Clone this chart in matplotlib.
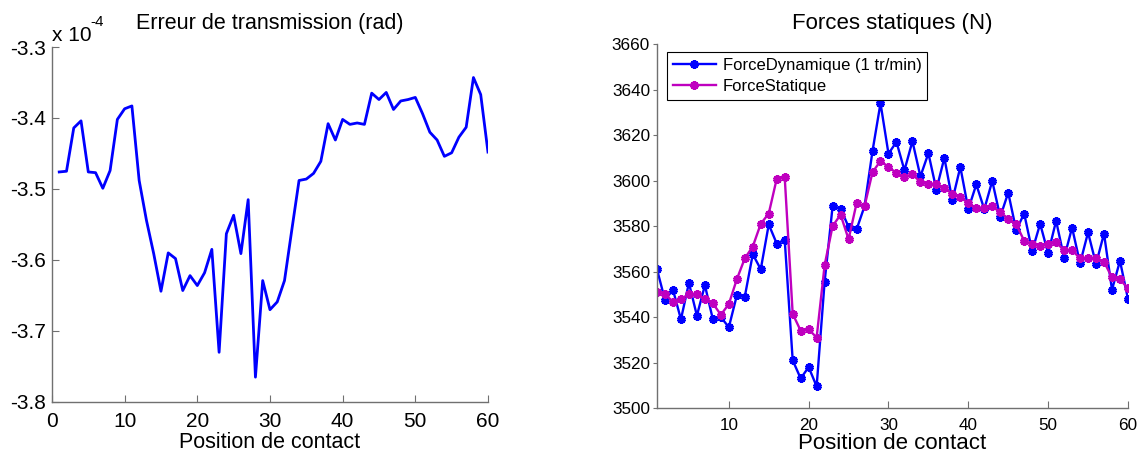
import matplotlib
matplotlib.use("Agg")
import matplotlib.pyplot as plt
import numpy as np

plt.rcParams['font.family'] = ['Liberation Sans', 'DejaVu Sans']

# Erreur de transmission, in units of 1e-4 rad
positions = list(range(1, 61))
erreur_e4 = [-3.476, -3.475, -3.414, -3.404, -3.476, -3.477, -3.499, -3.474, -3.402, -3.387,
             -3.383, -3.488, -3.544, -3.591, -3.644, -3.590, -3.598, -3.643, -3.622, -3.636,
             -3.618, -3.585, -3.730, -3.563, -3.537, -3.591, -3.515, -3.765, -3.629, -3.670,
             -3.659, -3.629, -3.558, -3.488, -3.486, -3.478, -3.461, -3.408, -3.431, -3.402,
             -3.409, -3.407, -3.409, -3.365, -3.374, -3.364, -3.388, -3.376, -3.374, -3.371,
             -3.394, -3.420, -3.431, -3.454, -3.449, -3.427, -3.413, -3.343, -3.367, -3.448]

force_dyn = [3561, 3547.5, 3552, 3539, 3555, 3540.6, 3554, 3539, 3540, 3535.5,
             3549.5, 3549, 3567.6, 3561, 3580.7, 3572.3, 3574, 3521, 3513, 3518,
             3509.5, 3555.5, 3588.7, 3587.7, 3579.6, 3578.5, 3588.7, 3613, 3634, 3611.8,
             3617, 3604.5, 3617.3, 3601.8, 3612, 3596, 3610, 3591.3, 3606, 3587.4,
             3598.3, 3587.4, 3599.8, 3584, 3594.7, 3578.2, 3585.5, 3569, 3581, 3568,
             3582.3, 3566, 3579.3, 3563.6, 3577.2, 3563.3, 3576.7, 3552, 3564.7, 3548]

force_stat = [3550.9, 3550, 3546.8, 3548, 3550, 3550, 3548, 3546, 3541, 3545.7,
              3556.6, 3565.8, 3571, 3581, 3585.5, 3600.8, 3601.5, 3541.4, 3534, 3534.6,
              3531, 3562.8, 3580, 3585, 3574.2, 3590, 3588.7, 3603.7, 3608.6, 3606,
              3603.3, 3601.5, 3602.7, 3599.4, 3598.3, 3598.6, 3596.7, 3594.2, 3592.8, 3590,
              3588, 3588, 3588.7, 3586, 3583.3, 3580.8, 3573.5, 3572, 3571.3, 3572,
              3572.8, 3569.4, 3569.4, 3565.8, 3566, 3565.8, 3564.3, 3557.4, 3556.6, 3552.6]

left_yticks = [-3.8, -3.7, -3.6, -3.5, -3.4, -3.3]
right_yticks = [3500, 3520, 3540, 3560, 3580, 3600, 3620, 3640, 3660]

fig = plt.figure(figsize=(11.42, 4.59), dpi=100)
ax1 = fig.add_axes([0.0455, 0.1242, 0.3818, 0.7734])
ax2 = fig.add_axes([0.5753, 0.111, 0.4124, 0.793])

axis_col = '#707070'

def style(ax, size):
    for s in ['top', 'right']:
        ax.spines[s].set_visible(False)
    for s in ['left', 'bottom']:
        ax.spines[s].set_color(axis_col)
        ax.spines[s].set_linewidth(1.0)
    ax.tick_params(direction='in', length=5, width=0.8, color=axis_col,
                   labelsize=size)

# left plot
ax1.plot(positions, erreur_e4, color='#0000ff', lw=2.0)
ax1.set_xlim(0, 60)
ax1.set_ylim(-3.8, -3.3)
ax1.set_xticks(range(0, 61, 10))
ax1.set_yticks(left_yticks)
ax1.set_yticklabels(['%.1f' % v for v in left_yticks])
style(ax1, 15)
ax1.tick_params(axis='x', pad=7)
ax1.tick_params(axis='y', pad=4)
ax1.set_title('Erreur de transmission (rad)', fontsize=15.5, pad=13)
ax1.set_xlabel('Position de contact', fontsize=15.5, labelpad=1)
ax1.text(0.0, 1.005, 'x 10', transform=ax1.transAxes, fontsize=15, ha='left', va='bottom')
ax1.text(0.087, 1.05, '-4', transform=ax1.transAxes, fontsize=11, ha='left', va='bottom')

# right plot
ax2.plot(positions, force_dyn, color='#0000ff', lw=1.7, marker=(6, 2, 0),
         ms=6, mew=2.4, label='ForceDynamique (1 tr/min)')
ax2.plot(positions, force_stat, color='#bf00bf', lw=1.7, marker=(6, 2, 0),
         ms=6, mew=2.4, label='ForceStatique')
ax2.set_xlim(1, 60)
ax2.set_ylim(3500, 3660)
ax2.set_xticks(range(10, 61, 10))
ax2.set_yticks(right_yticks)
style(ax2, 12.3)
ax2.tick_params(axis='y', direction='out', length=3, pad=2)
ax2.tick_params(axis='x', pad=7)
ax2.set_title('Forces statiques (N)', fontsize=16, pad=11)
ax2.set_xlabel('Position de contact', fontsize=16, labelpad=0)
leg = ax2.legend(loc='upper left', bbox_to_anchor=(0.021, 0.978), fontsize=12,
                 fancybox=False, framealpha=1, edgecolor='black',
                 handlelength=2.6, handletextpad=0.4, borderpad=0.35,
                 labelspacing=0.35, borderaxespad=0)
leg.get_frame().set_linewidth(0.8)

fig.savefig('out.png', dpi=100)
